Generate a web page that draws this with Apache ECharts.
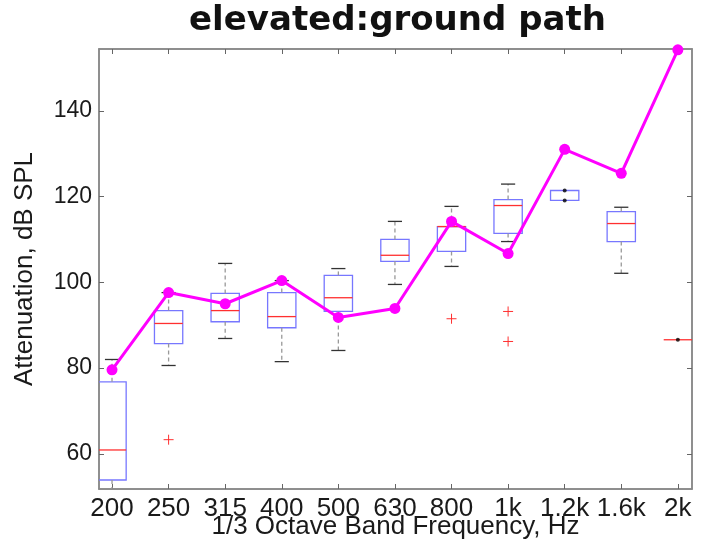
<!DOCTYPE html>
<html>
<head>
<meta charset="utf-8">
<script src="https://cdn.jsdelivr.net/npm/echarts@6/dist/echarts.min.js"></script>
<style>html,body{margin:0;padding:0;background:#fff}#c{width:702px;height:548px}</style>
</head>
<body>
<div id="c"></div>
<script>
var categories = ['200','250','315','400','500','630','800','1k','1.2k','1.6k','2k'];
var whiskerLow  = [51.0, 80.6, 86.9, 81.5, 84.1, 99.5, 103.7, 109.5, 119.1, 102.1, null];
var q1          = [53.9, 85.7, 90.8, 89.4, 93.2, 104.9, 107.2, 111.4, 119.1, 109.5, null];
var medianVals  = [60.9, 90.4, 93.4, 92.0, 96.4, 106.3, 113.0, 117.9, null, 113.7, 86.6];
var q3          = [76.8, 93.4, 97.4, 97.6, 101.6, 110.0, 113.0, 119.3, 121.4, 116.5, null];
var whiskerHigh = [82.0, 97.6, 104.4, 100.4, 103.2, 114.2, 117.7, 122.9, 121.4, 117.5, null];
var outlierCat  = [1, 6, 7, 7];
var outlierVal  = [63.3, 91.5, 93.2, 86.2];
var dotCat      = [8, 8, 10];
var dotVal      = [121.4, 119.1, 86.6];
var pathLevel   = [79.6, 97.6, 95.0, 100.4, 91.8, 93.9, 114.2, 106.7, 131.0, 125.4, 154.2];
var yTicks      = [60, 80, 100, 120, 140];

var catIdx = categories.map(function(c, i){ return i; });
var boxData = categories.map(function(c, i){
  return [i, whiskerLow[i], q1[i], medianVals[i], q3[i], whiskerHigh[i]];
});
var lineData = pathLevel.map(function(v, i){ return [i, v]; });
var outData = outlierVal.map(function(v, i){ return [outlierCat[i], v]; });
var dotData = dotVal.map(function(v, i){ return [dotCat[i], v]; });

var HALF = 0.25;
function renderBox(params, api){
  var x = api.value(0);
  var lo = api.value(1), b1 = api.value(2), md = api.value(3), b3 = api.value(4), hi = api.value(5);
  var children = [];
  var L = function(v){ return api.coord([x - HALF, v]); };
  var R = function(v){ return api.coord([x + HALF, v]); };
  var C = function(v){ return api.coord([x, v]); };
  var ok = function(v){ return v != null && !isNaN(v); };
  var boxStroke = {stroke: '#7777ff', lineWidth: 1.3, fill: null};
  if (ok(b1) && ok(b3)) {
    var p1 = L(b3), p2 = R(b1);
    children.push({type:'rect', shape:{x:p1[0], y:p1[1], width:p2[0]-p1[0], height:p2[1]-p1[1]}, style: boxStroke});
    var capW = HALF * 0.5;
    if (ok(hi) && hi > b3) {
      var a = C(b3), t = C(hi);
      children.push({type:'line', shape:{x1:a[0], y1:a[1], x2:t[0], y2:t[1]}, style:{stroke:'#999', lineWidth:1.3, lineDash:[4,3]}});
      var c1 = api.coord([x - capW, hi]), c2 = api.coord([x + capW, hi]);
      children.push({type:'line', shape:{x1:c1[0], y1:c1[1], x2:c2[0], y2:c2[1]}, style:{stroke:'#333', lineWidth:1.3}});
    }
    if (ok(lo) && lo < b1) {
      var a2 = C(b1), t2 = C(lo);
      children.push({type:'line', shape:{x1:a2[0], y1:a2[1], x2:t2[0], y2:t2[1]}, style:{stroke:'#999', lineWidth:1.3, lineDash:[4,3]}});
      var d1 = api.coord([x - capW, lo]), d2 = api.coord([x + capW, lo]);
      children.push({type:'line', shape:{x1:d1[0], y1:d1[1], x2:d2[0], y2:d2[1]}, style:{stroke:'#333', lineWidth:1.3}});
    }
  }
  if (ok(md)) {
    var m1 = L(md), m2 = R(md);
    children.push({type:'line', shape:{x1:m1[0], y1:m1[1], x2:m2[0], y2:m2[1]}, style:{stroke:'#ff3030', lineWidth:1.3}});
  }
  return {type:'group', children: children};
}
function renderPlus(params, api){
  var p = api.coord([api.value(0), api.value(1)]);
  var s = 5;
  return {type:'group', children:[
    {type:'line', shape:{x1:p[0]-s, y1:p[1], x2:p[0]+s, y2:p[1]}, style:{stroke:'#ff3030', lineWidth:1}},
    {type:'line', shape:{x1:p[0], y1:p[1]-s, x2:p[0], y2:p[1]+s}, style:{stroke:'#ff3030', lineWidth:1}}
  ]};
}

var chart = echarts.init(document.getElementById('c'), null, {renderer:'canvas'});
var FF = 'Liberation Sans, Arial, sans-serif';
chart.setOption({
  animation: false,
  graphic: [{
    type:'text', left: 397 - 208, top: 4,
    style:{text:'elevated:ground path', x:0, y:0, fontFamily:'DejaVu Sans, sans-serif', fontWeight:'bold', fontSize:34, fill:'#111'}
  }],
  grid: {left:99, right:10, top:49, bottom:59, show:true, borderColor:'#888', borderWidth:1.5, backgroundColor:'#fff',
    containLabel:false, outerBoundsMode:'none'},
  xAxis: [{
    type:'value', min:-0.23, max:10.25, position:'bottom',
    axisLine:{show:true, onZero:false, lineStyle:{color:'#888', width:1.5}},
    axisTick:{show:true, inside:true, length:5, lineStyle:{color:'#666'}, customValues: catIdx},
    axisLabel:{show:true, margin:7, customValues: catIdx, formatter:function(v){ return categories[Math.round(v)]; },
      fontFamily:FF, fontSize:26, color:'#1a1a1a'},
    splitLine:{show:false},
    name:'1/3 Octave Band Frequency, Hz', nameLocation:'middle', nameGap:25, nameMoveOverlap:false,
    nameTextStyle:{fontFamily:FF, fontSize:26, color:'#1a1a1a'}
  },{
    type:'value', min:-0.23, max:10.25, position:'top',
    axisLine:{show:true, onZero:false, lineStyle:{color:'#888', width:1.5}},
    axisTick:{show:true, inside:true, length:5, lineStyle:{color:'#666'}, customValues: catIdx},
    axisLabel:{show:false}, splitLine:{show:false}
  }],
  yAxis: [{
    type:'value', min:51.8, max:154.4, position:'left',
    axisLine:{show:true, onZero:false, lineStyle:{color:'#888', width:1.5}},
    axisTick:{show:true, inside:true, length:5, lineStyle:{color:'#666'}, customValues: yTicks},
    axisLabel:{show:true, margin:7, customValues: yTicks, fontFamily:FF, fontSize:23, color:'#1a1a1a'},
    splitLine:{show:false},
    name:'Attenuation, dB SPL', nameLocation:'middle', nameGap:61, nameRotate:90, nameMoveOverlap:false,
    nameTextStyle:{fontFamily:FF, fontSize:26, color:'#1a1a1a'}
  },{
    type:'value', min:51.8, max:154.4, position:'right',
    axisLine:{show:true, onZero:false, lineStyle:{color:'#888', width:1.5}},
    axisTick:{show:true, inside:true, length:5, lineStyle:{color:'#666'}, customValues: yTicks},
    axisLabel:{show:false}, splitLine:{show:false}
  }],
  series: [
    {type:'custom', renderItem: renderBox, data: boxData, clip:true, encode:{x:0, y:[1,2,3,4,5]}, z:2},
    {type:'custom', renderItem: renderPlus, data: outData, clip:true, encode:{x:0, y:1}, z:3},
    {type:'scatter', data: dotData, symbol:'circle', symbolSize:4, itemStyle:{color:'#000'}, z:4},
    {type:'line', data: lineData, clip:false, symbol:'circle', symbolSize:11, showSymbol:true,
      lineStyle:{color:'#ff00ff', width:3}, itemStyle:{color:'#ff00ff'}, z:5}
  ]
});
</script>
</body>
</html>
